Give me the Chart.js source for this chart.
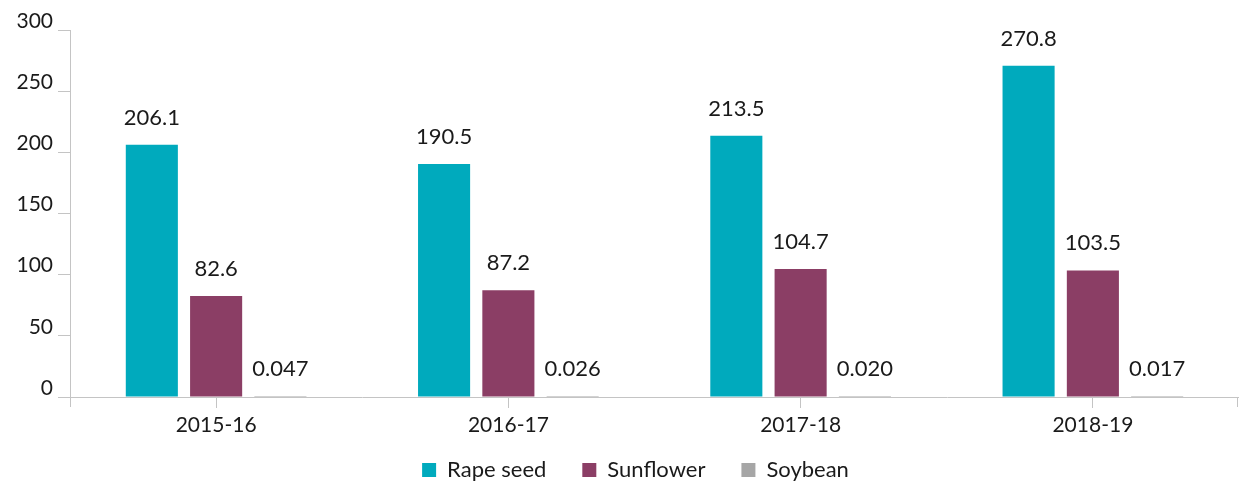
<!DOCTYPE html>
<html>
<head>
<meta charset="utf-8">
<script src="https://cdn.jsdelivr.net/npm/chart.js@4/dist/chart.umd.min.js"></script>
<style>
  html, body { margin: 0; padding: 0; background: #fff; }
  #wrap { width: 1239px; height: 485px; }
</style>
</head>
<body>
<div id="wrap"><canvas id="oilChart"></canvas></div>
<script>
// categories and series
const seasons = ["2015-16", "2016-17", "2017-18", "2018-19"];
const rapeSeed = [206.1, 190.5, 213.5, 270.8];
const sunflower = [82.6, 87.2, 104.7, 103.5];
const soybean = [0.047, 0.026, 0.020, 0.017];
// labels as printed on the chart
const rapeLabels = ["206.1", "190.5", "213.5", "270.8"];
const sunLabels = ["82.6", "87.2", "104.7", "103.5"];
const soyLabels = ["0.047", "0.026", "0.020", "0.017"];
const yTicks = [0, 50, 100, 150, 200, 250, 300];

const FONT = "Lato";
const axisGrey = "#c4c4c4";

// draw the value above each bar
const valueLabels = {
    id: "valueLabels",
    afterDatasetsDraw(chart) {
        const ctx = chart.ctx;
        const texts = [rapeLabels, sunLabels, soyLabels];
        ctx.save();
        ctx.font = "22px " + FONT;
        ctx.fillStyle = "#1a1a1a";
        ctx.textAlign = "center";
        ctx.textBaseline = "middle";
        chart.data.datasets.forEach((ds, i) => {
            chart.getDatasetMeta(i).data.forEach((bar, j) => {
                ctx.fillText(texts[i][j], bar.x, bar.y - 27);
            });
        });
        ctx.restore();
    }
};

// y axis line continues a bit below the x axis, end tick on the right
const axisExtras = {
    id: "axisExtras",
    afterDraw(chart) {
        const a = chart.chartArea;
        const ctx = chart.ctx;
        const rx = Math.min(a.right, chart.width) - 1.5;
        ctx.save();
        ctx.strokeStyle = axisGrey;
        ctx.lineWidth = 1;
        ctx.beginPath();
        ctx.moveTo(a.left + 0.5, a.bottom);
        ctx.lineTo(a.left + 0.5, a.bottom + 10);
        ctx.moveTo(rx, a.bottom);
        ctx.lineTo(rx, a.bottom + 10);
        ctx.stroke();
        ctx.restore();
    }
};

// keep the legend compact while the items stay widely spaced
const legendFit = {
    id: "legendFit",
    beforeLayout(chart) {
        const lg = chart.legend;
        if (lg && !lg._fixed) {
            const fit = lg.fit;
            lg.fit = function () { fit.call(this); this.height = 36; };
            lg._fixed = true;
        }
    },
    afterLayout(chart) {
        const lg = chart.legend;
        if (lg) { lg.top = lg.bottom - 62; lg.left += 16; lg.right += 16; }
    }
};

new Chart(document.getElementById("oilChart"), {
    type: "bar",
    data: {
        labels: seasons,
        datasets: [
            { label: "Rape seed", data: rapeSeed, backgroundColor: "#00aabd" },
            { label: "Sunflower", data: sunflower, backgroundColor: "#8b3e65" },
            { label: "Soybean", data: soybean, backgroundColor: "#a6a6a6", minBarLength: 1 }
        ]
    },
    options: {
        responsive: true,
        maintainAspectRatio: false,
        animation: false,
        datasets: {
            bar: { categoryPercentage: 0.66, barPercentage: 0.81 }
        },
        layout: { padding: { top: 30, right: 0, left: 0, bottom: 0 } },
        scales: {
            x: {
                grid: { drawOnChartArea: false, color: axisGrey, tickLength: 11, offset: false },
                border: { color: axisGrey },
                ticks: { font: { family: FONT, size: 21 }, color: "#1a1a1a", padding: 5 },
                afterFit(scale) { scale.height = 52; }
            },
            y: {
                min: 0,
                max: 300,
                afterBuildTicks(scale) { scale.ticks = yTicks.map(v => ({ value: v })); },
                grid: { drawOnChartArea: false, color: axisGrey, tickLength: 12 },
                border: { color: axisGrey },
                ticks: { font: { family: FONT, size: 21 }, color: "#1a1a1a", padding: 5, labelOffset: -9 },
                afterFit(scale) { scale.width = 70; }
            }
        },
        plugins: {
            legend: {
                position: "bottom",
                labels: {
                    font: { family: FONT, size: 22 },
                    color: "#1a1a1a",
                    boxWidth: 14,
                    boxHeight: 14,
                    padding: 36
                }
            },
            tooltip: { enabled: false }
        }
    },
    plugins: [valueLabels, axisExtras, legendFit]
});
</script>
</body>
</html>
